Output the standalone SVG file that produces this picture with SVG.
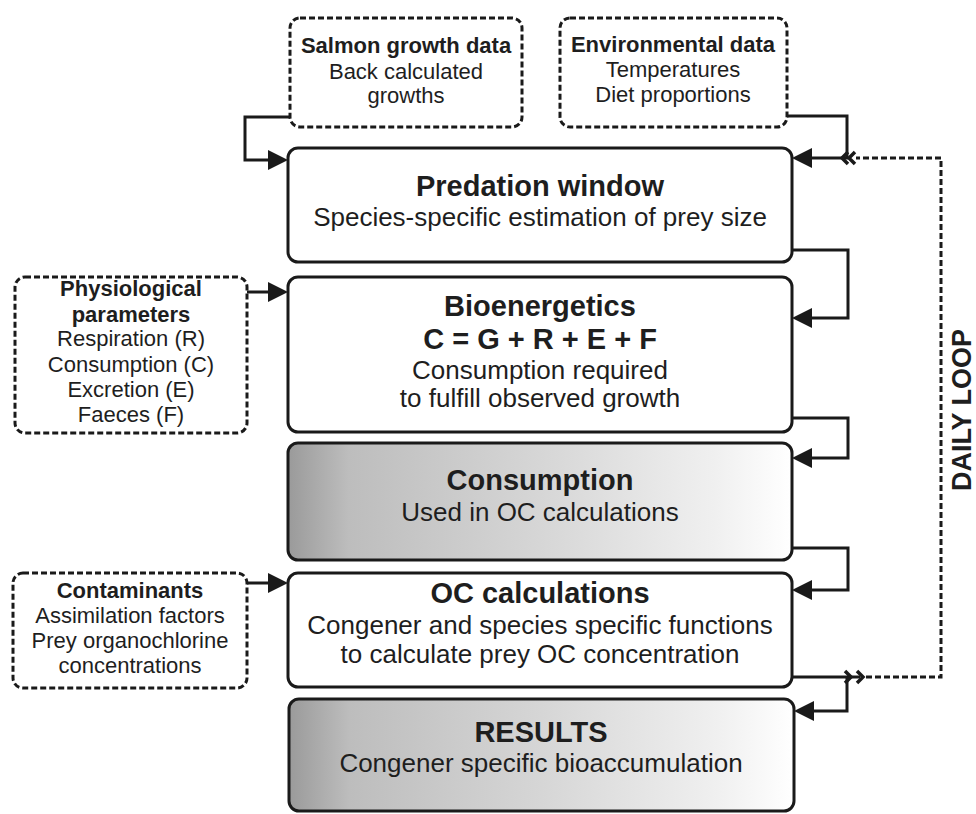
<svg xmlns="http://www.w3.org/2000/svg" width="976" height="814" viewBox="0 0 976 814">
<defs>
<linearGradient id="grey" x1="0" y1="0" x2="1" y2="0">
<stop offset="0" stop-color="#9a9a9a"/>
<stop offset="0.12" stop-color="#bdbdbd"/>
<stop offset="0.5" stop-color="#d6d6d6"/>
<stop offset="0.85" stop-color="#f0f0f0"/>
<stop offset="1" stop-color="#ffffff"/>
</linearGradient>
<marker id="arr" markerUnits="userSpaceOnUse" viewBox="0 0 20 20" refX="16" refY="10" markerWidth="20" markerHeight="20" orient="auto">
<path d="M0,0 L20,10 L0,20 z" fill="#1a1a1a"/>
</marker>
<style>
.box{fill:#ffffff;stroke:#1a1a1a;stroke-width:3}
.grad{fill:url(#grey);stroke:#1a1a1a;stroke-width:3}
.dash{fill:#ffffff;stroke:#1a1a1a;stroke-width:3;stroke-dasharray:6 3}
.t{font-family:"Liberation Sans",Arial,Helvetica,sans-serif;fill:#1e1e1e;text-anchor:middle}
.h{font-size:29px;font-weight:bold}
.s{font-size:26px}
.lh{font-size:22px;font-weight:bold}
.ls{font-size:22px}
.c{fill:none;stroke:#1a1a1a;stroke-width:3}
.cd{fill:none;stroke:#1a1a1a;stroke-width:3;stroke-dasharray:6 3}
.ch{fill:none;stroke:#1a1a1a;stroke-width:3.5}
</style>
</defs>

<g id="salmon">
<rect class="dash" x="290" y="18" width="232" height="109" rx="10"/>
<text class="t lh" x="406" y="53">Salmon growth data</text>
<text class="t ls" x="406" y="79">Back calculated</text>
<text class="t ls" x="406" y="103">growths</text>
</g>

<g id="environmental">
<rect class="dash" x="560" y="18" width="227" height="109" rx="10"/>
<text class="t lh" x="673" y="52">Environmental data</text>
<text class="t ls" x="673" y="77">Temperatures</text>
<text class="t ls" x="673" y="102">Diet proportions</text>
</g>

<g id="physiological">
<rect class="dash" x="15" y="277" width="232" height="156" rx="10"/>
<text class="t lh" x="131" y="296">Physiological</text>
<text class="t lh" x="131" y="322">parameters</text>
<text class="t ls" x="131" y="346">Respiration (R)</text>
<text class="t ls" x="131" y="372">Consumption (C)</text>
<text class="t ls" x="131" y="397">Excretion (E)</text>
<text class="t ls" x="131" y="422">Faeces (F)</text>
</g>

<g id="contaminants">
<rect class="dash" x="13" y="573" width="234" height="115" rx="10"/>
<text class="t lh" x="130" y="598">Contaminants</text>
<text class="t ls" x="130" y="623">Assimilation factors</text>
<text class="t ls" x="130" y="648">Prey organochlorine</text>
<text class="t ls" x="130" y="673">concentrations</text>
</g>

<g id="predation">
<rect class="box" x="288" y="148" width="504" height="114" rx="10"/>
<text class="t h" x="540" y="196">Predation window</text>
<text class="t s" x="540" y="226">Species-specific estimation of prey size</text>
</g>

<g id="bioenergetics">
<rect class="box" x="288" y="277" width="504" height="155" rx="10"/>
<text class="t h" x="540" y="316">Bioenergetics</text>
<text class="t h" x="540" y="349">C = G + R + E + F</text>
<text class="t s" x="540" y="379">Consumption required</text>
<text class="t s" x="540" y="407">to fulfill observed growth</text>
</g>

<g id="consumption">
<rect class="grad" x="288" y="443" width="504" height="117" rx="10"/>
<text class="t h" x="540" y="490">Consumption</text>
<text class="t s" x="540" y="521">Used in OC calculations</text>
</g>

<g id="oc">
<rect class="box" x="288" y="573" width="504" height="114" rx="10"/>
<text class="t h" x="540" y="603">OC calculations</text>
<text class="t s" x="540" y="634">Congener and species specific functions</text>
<text class="t s" x="540" y="663">to calculate prey OC concentration</text>
</g>

<g id="results">
<rect class="grad" x="289" y="699" width="505" height="112" rx="10"/>
<text class="t h" x="541" y="742">RESULTS</text>
<text class="t s" x="541" y="772">Congener specific bioaccumulation</text>
</g>

<g id="loop-label">
<text class="t" style="font-size:27px;font-weight:bold" transform="translate(971,410) rotate(-90)">DAILY LOOP</text>
</g>

<g id="connectors">
<path class="c" d="M290,117 H245 V160 H284" marker-end="url(#arr)"/>
<path class="c" d="M787,116 H847 V158 H796" marker-end="url(#arr)"/>
<path class="c" d="M792,250 H848 V318 H796" marker-end="url(#arr)"/>
<path class="c" d="M792,418 H848 V458 H796" marker-end="url(#arr)"/>
<path class="c" d="M792,548 H848 V590 H796" marker-end="url(#arr)"/>
<path class="c" d="M792,677 H847 V711 H798" marker-end="url(#arr)"/>
<path class="c" d="M847,677 H860"/>
<path class="c" d="M247,292 H284" marker-end="url(#arr)"/>
<path class="c" d="M247,583 H284" marker-end="url(#arr)"/>
<path class="cd" d="M866,677 H941 V158 H856"/>
<polyline class="ch" points="848,152 842,158 848,164"/>
<polyline class="ch" points="855,152 849,158 855,164"/>
<polyline class="ch" points="845,671 851,677 845,683"/>
<polyline class="ch" points="857,671 863,677 857,683"/>
</g>
</svg>
